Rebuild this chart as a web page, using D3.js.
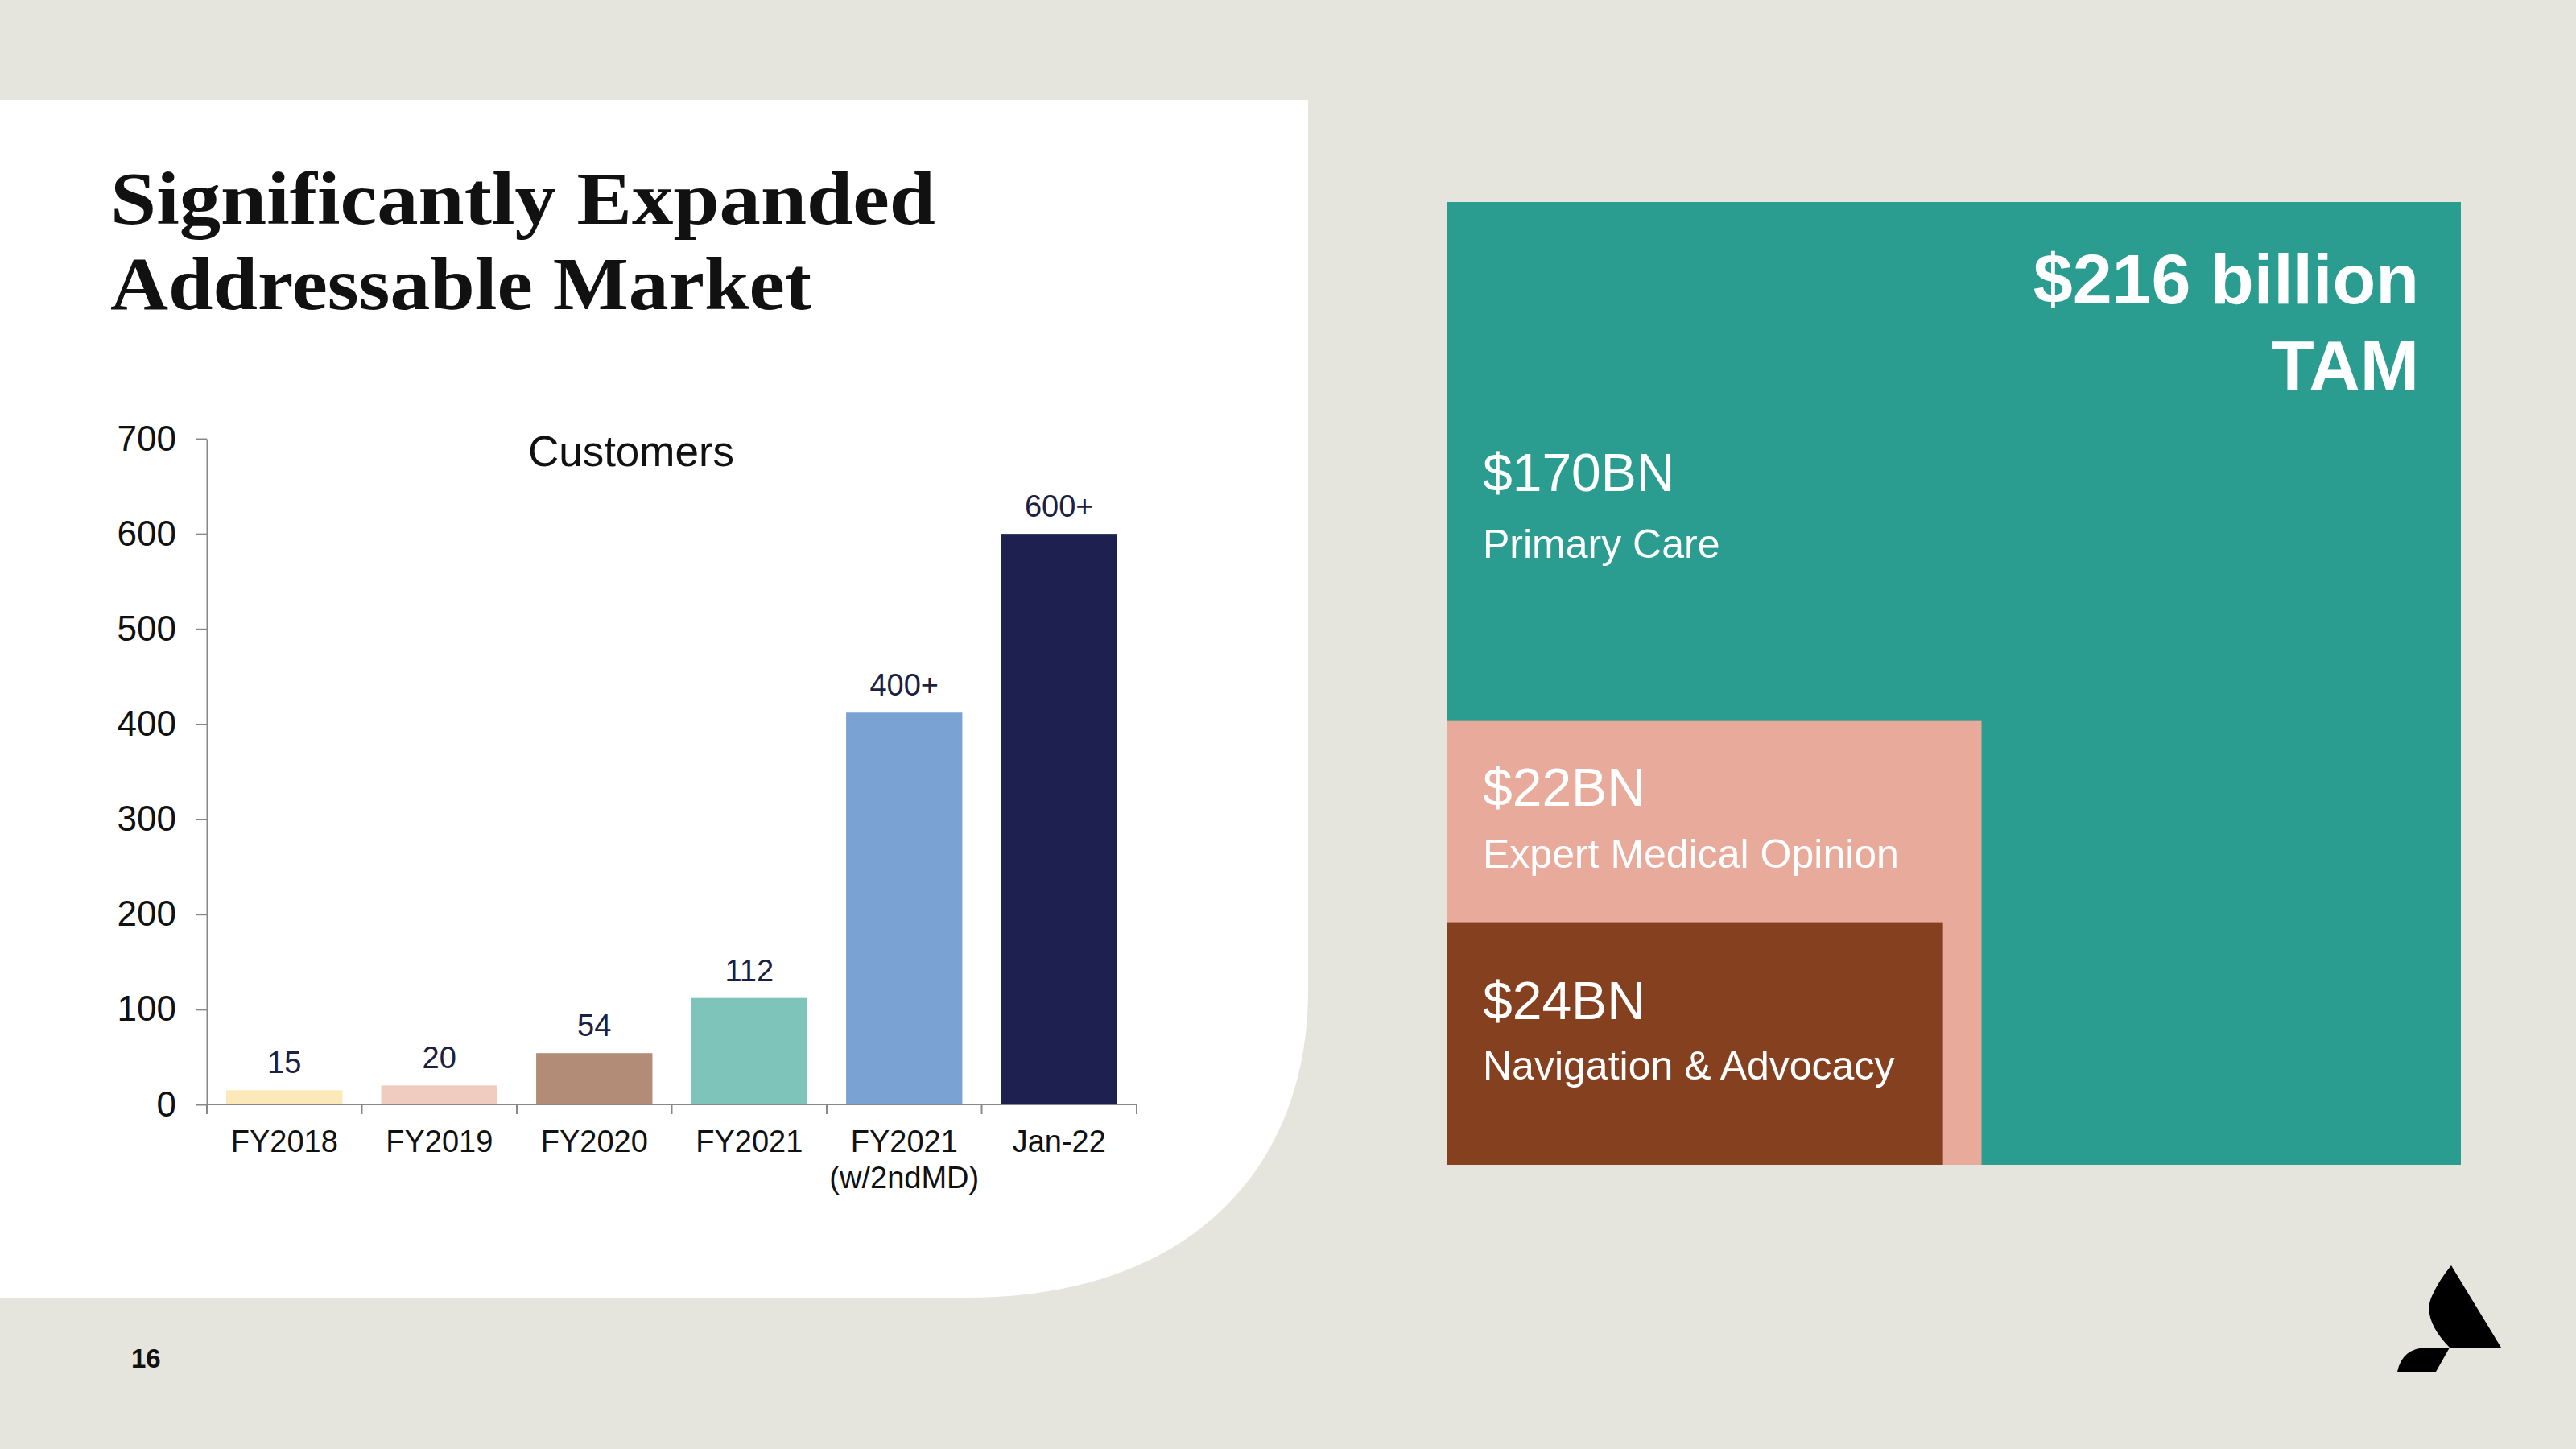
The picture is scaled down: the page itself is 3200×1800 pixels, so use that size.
<!DOCTYPE html>
<html>
<head>
<meta charset="utf-8">
<script src="https://cdn.jsdelivr.net/npm/d3@7"></script>
<style>
  html, body { margin: 0; padding: 0; background: #e5e4dd; }
  svg { display: block; }
</style>
</head>
<body>
<svg></svg>
<script>
// bar chart data
var categories = ["FY2018", "FY2019", "FY2020", "FY2021", "FY2021\n(w/2ndMD)", "Jan-22"];
var customers = [15, 20, 54, 112, 412, 600];
var valueLabels = ["15", "20", "54", "112", "400+", "600+"];
var barColors = ["#fce9b9", "#f0cbc0", "#b38c77", "#7fc4ba", "#7aa3d4", "#1e2050"];
var yTicks = [0, 100, 200, 300, 400, 500, 600, 700];

// TAM boxes
var tamTotal = ["$216 billion", "TAM"];
var tamValues = ["$170BN", "$22BN", "$24BN"];
var tamNames = ["Primary Care", "Expert Medical Opinion", "Navigation & Advocacy"];
var tamColors = ["#2a9d90", "#e8aa9b", "#84401f"];

start();

function start(){
  var width = 3200;
  var height = 1800;

  var svg = d3.select("svg")
              .attr("width", width)
              .attr("height", height);

  svg.append("rect")
     .attr("width", width)
     .attr("height", height)
     .attr("fill", "#e5e4dd");

  // white card with the curved corner
  svg.append("path")
     .attr("d", "M0,124 H1625 V1230 C1625,1450 1480,1612 1200,1612 H0 Z")
     .attr("fill", "#ffffff");

  var heading = svg.append("g")
                   .attr("font-family", "'Liberation Serif', 'DejaVu Serif', serif")
                   .attr("font-weight", 700)
                   .attr("font-size", 94)
                   .attr("fill", "#111");
  heading.append("text")
         .attr("x", 137).attr("y", 278)
         .attr("textLength", 1025)
         .attr("lengthAdjust", "spacingAndGlyphs")
         .text("Significantly Expanded");
  heading.append("text")
         .attr("x", 137).attr("y", 384)
         .attr("textLength", 871)
         .attr("lengthAdjust", "spacingAndGlyphs")
         .text("Addressable Market");

  svg.append("text")
     .attr("x", 163).attr("y", 1699)
     .attr("font-family", "'Liberation Sans Narrow', 'Liberation Sans', sans-serif")
     .attr("font-weight", 700)
     .attr("font-size", 33)
     .attr("fill", "#111")
     .text("16");

  barChart(svg);
  tamBoxes(svg);
  logo(svg);
}

function barChart(svg){
  var left = 257, right = 1412, top = 545, bottom = 1372;

  var x = d3.scaleBand()
            .domain(categories)
            .range([left, right])
            .paddingInner(0.25)
            .paddingOuter(0.125);
  var slot = d3.scaleBand()
               .domain(categories)
               .range([left, right]);
  var y = d3.scaleLinear()
            .domain([0, 700])
            .range([bottom, top]);

  var g = svg.append("g")
             .attr("font-family", "'Liberation Sans', Arial, sans-serif");

  g.selectAll("rect.bar")
   .data(customers)
   .enter()
   .append("rect")
   .attr("class", "bar")
   .attr("x", function(d, i){ return x(categories[i]); })
   .attr("y", function(d){ return y(d); })
   .attr("width", x.bandwidth())
   .attr("height", function(d){ return y(0) - y(d); })
   .attr("fill", function(d, i){ return barColors[i]; });

  g.selectAll("text.val")
   .data(customers)
   .enter()
   .append("text")
   .attr("class", "val")
   .attr("x", function(d, i){ return x(categories[i]) + x.bandwidth()/2; })
   .attr("y", function(d){ return y(d) - 21; })
   .attr("text-anchor", "middle")
   .attr("font-size", 38)
   .attr("fill", "#1c2140")
   .text(function(d, i){ return valueLabels[i]; });

  // y axis
  var yAxis = g.append("g")
               .attr("transform", "translate(" + left + ",0)")
               .call(d3.axisLeft(y).tickValues(yTicks).tickSize(14).tickPadding(24).tickSizeOuter(0));
  yAxis.select(".domain").attr("stroke", "#888").attr("stroke-width", 2);
  yAxis.selectAll(".tick line").attr("stroke", "#888").attr("stroke-width", 2);
  yAxis.selectAll(".tick text")
       .attr("font-size", 44)
       .attr("font-family", "'Liberation Sans', Arial, sans-serif")
       .attr("fill", "#111");

  // x axis line and slot boundary ticks
  g.append("line")
   .attr("x1", left).attr("x2", right)
   .attr("y1", y(0)).attr("y2", y(0))
   .attr("stroke", "#888").attr("stroke-width", 2);
  var bounds = categories.map(function(c){ return slot(c); }).concat([right]);
  g.selectAll("line.xtick")
   .data(bounds)
   .enter()
   .append("line")
   .attr("class", "xtick")
   .attr("x1", function(d){ return d; }).attr("x2", function(d){ return d; })
   .attr("y1", y(0)).attr("y2", y(0) + 12)
   .attr("stroke", "#888").attr("stroke-width", 2);

  var xl = g.selectAll("text.cat")
            .data(categories)
            .enter()
            .append("text")
            .attr("class", "cat")
            .attr("x", function(d){ return slot(d) + slot.bandwidth()/2; })
            .attr("y", bottom + 59)
            .attr("text-anchor", "middle")
            .attr("font-size", 38)
            .attr("fill", "#111");
  xl.selectAll("tspan")
    .data(function(d){ return d.split("\n"); })
    .enter()
    .append("tspan")
    .attr("x", function(){ return d3.select(this.parentNode).attr("x"); })
    .attr("dy", function(d, i){ return i ? 45 : 0; })
    .text(function(d){ return d; });

  g.append("text")
   .attr("x", 784).attr("y", 579)
   .attr("text-anchor", "middle")
   .attr("font-size", 53)
   .attr("fill", "#111")
   .text("Customers");
}

function tamBoxes(svg){
  var bx = d3.scaleLinear().domain([0, 1]).range([1798, 3057]);
  var by = d3.scaleLinear().domain([0, 1]).range([251, 1447]);
  // nested boxes: right edge and top edge as fractions of the full area
  var boxes = [{x1: 1, y0: 0}, {x1: 0.527, y0: 0.539}, {x1: 0.489, y0: 0.748}];
  var valueY = [610, 1001, 1266];
  var nameY = [693, 1078, 1341];

  var g = svg.append("g")
             .attr("font-family", "'Liberation Sans', Arial, sans-serif")
             .attr("fill", "#fff");

  g.selectAll("rect")
   .data(tamValues)
   .enter()
   .append("rect")
   .attr("x", bx(0))
   .attr("y", function(d, i){ return by(boxes[i].y0); })
   .attr("width", function(d, i){ return bx(boxes[i].x1) - bx(0); })
   .attr("height", function(d, i){ return by(1) - by(boxes[i].y0); })
   .attr("fill", function(d, i){ return tamColors[i]; });

  g.selectAll("text.tv")
   .data(tamValues)
   .enter()
   .append("text")
   .attr("class", "tv")
   .attr("x", 1842)
   .attr("y", function(d, i){ return valueY[i]; })
   .attr("font-size", 66)
   .text(function(d){ return d; });

  g.selectAll("text.tn")
   .data(tamNames)
   .enter()
   .append("text")
   .attr("class", "tn")
   .attr("x", 1842)
   .attr("y", function(d, i){ return nameY[i]; })
   .attr("font-size", 50)
   .text(function(d){ return d; });

  g.selectAll("text.tt")
   .data(tamTotal)
   .enter()
   .append("text")
   .attr("class", "tt")
   .attr("x", 3005)
   .attr("y", function(d, i){ return 377 + i*107; })
   .attr("text-anchor", "end")
   .attr("font-size", 88)
   .attr("font-weight", 700)
   .text(function(d){ return d; });
}

function logo(svg){
  var g = svg.append("g").attr("fill", "#000");
  g.append("path")
   .attr("d", "M3045,1572 L3107,1674 L3043,1674 Q3008,1638 3021,1610 Q3030,1590 3045,1572 Z");
  g.append("path")
   .attr("d", "M3043,1674 L3026,1704 L2978,1704 Q2984,1675 3014,1674 Z");
}
</script>
</body>
</html>
